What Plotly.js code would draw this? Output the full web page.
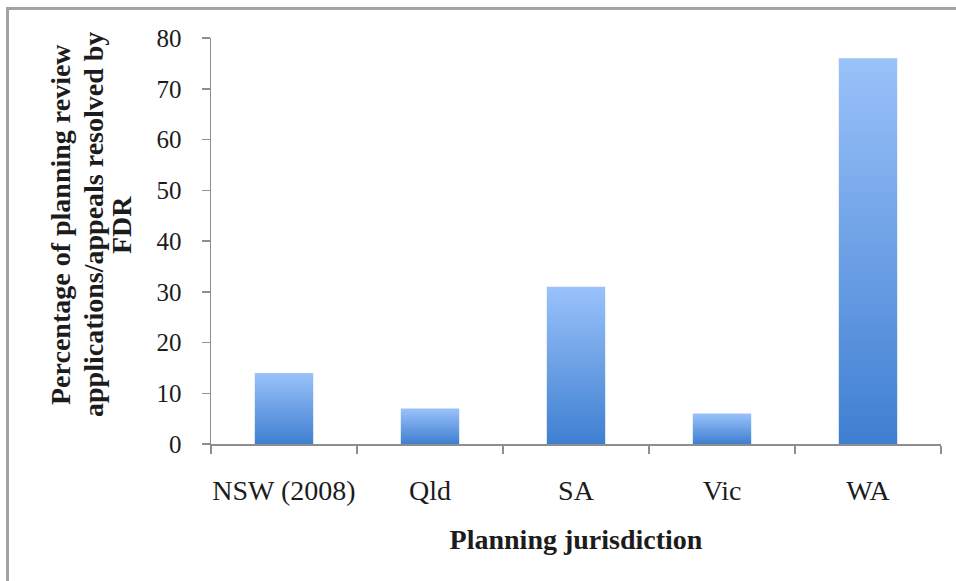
<!DOCTYPE html>
<html>
<head>
<meta charset="utf-8">
<script src="https://cdn.plot.ly/plotly-3.0.1.min.js"></script>
<style>
  html, body { margin: 0; padding: 0; background: #ffffff; }
  #wrap { position: relative; width: 956px; height: 581px; overflow: hidden; }
  #frame { position: absolute; left: 6px; top: 7px; width: 1000px; height: 700px;
           border-left: 3px solid #a3a3a3; border-top: 3px solid #a3a3a3; box-sizing: border-box; }
  #chart { position: absolute; left: 0; top: 0; width: 956px; height: 581px; }
</style>
</head>
<body>
<div id="wrap">
  <div id="frame"></div>
  <div id="chart"></div>
</div>
<script>
const categories = ["NSW (2008)", "Qld", "SA", "Vic", "WA"];
const percentResolved = [14, 7, 31, 6, 76];
const yTickValues = [0, 10, 20, 30, 40, 50, 60, 70, 80];
const yTitleLines = ["Percentage of planning review", "applications/appeals resolved by", "FDR"];
const xTitle = "Planning jurisdiction";

const axisColor = "#8e8e8e";
const textColor = "#1c1c1c";
const serif = "Liberation Serif, serif";

// plot area geometry (px) used to place the y-title lines
const plotLeft = 211, plotWidth = 730, plotTop = 38, plotHeight = 406;
const yTitleCentersPx = [60, 93, 121];
const yTitleMidPx = 225;

const trace = {
  type: "bar",
  x: categories,
  y: percentResolved,
  marker: { color: "#6a9fe4", line: { width: 0 } },
  hoverinfo: "x+y"
};

const annotations = yTitleLines.map(function (line, i) {
  return {
    text: "<b>" + line + "</b>",
    xref: "paper", yref: "paper",
    x: (yTitleCentersPx[i] - plotLeft) / plotWidth,
    y: (plotTop + plotHeight - yTitleMidPx) / plotHeight,
    xanchor: "center", yanchor: "middle",
    textangle: -90,
    showarrow: false,
    font: { family: serif, size: 28, color: textColor }
  };
});

const layout = {
  width: 956,
  height: 581,
  margin: { l: 211, r: 15, t: 38, b: 137, pad: 0 },
  paper_bgcolor: "rgba(0,0,0,0)",
  plot_bgcolor: "rgba(0,0,0,0)",
  showlegend: false,
  bargap: 0.6,
  font: { family: serif, color: textColor },
  annotations: annotations,
  xaxis: {
    type: "category",
    showline: true,
    linecolor: axisColor,
    linewidth: 1.5,
    ticks: "outside",
    tickson: "boundaries",
    ticklen: 8,
    tickwidth: 1.5,
    tickcolor: axisColor,
    showgrid: false,
    zeroline: false,
    tickangle: 0,
    tickfont: { family: serif, size: 28, color: textColor },
    ticklabelstandoff: 21,
    title: {
      text: "<b>" + xTitle + "</b>",
      font: { family: serif, size: 28, color: textColor },
      standoff: 24
    }
  },
  yaxis: {
    range: [0, 80],
    tickvals: yTickValues,
    showline: true,
    linecolor: axisColor,
    linewidth: 1.5,
    ticks: "outside",
    ticklen: 8,
    tickwidth: 1.5,
    tickcolor: axisColor,
    showgrid: false,
    zeroline: false,
    tickfont: { family: serif, size: 25, color: textColor },
    ticklabelstandoff: 15
  }
};

Plotly.newPlot("chart", [trace], layout, { staticPlot: true, displayModeBar: false }).then(function (gd) {
  const ns = "http://www.w3.org/2000/svg";
  const svg = gd.querySelector(".main-svg");
  let defs = svg.querySelector("defs");
  if (!defs) {
    defs = document.createElementNS(ns, "defs");
    svg.insertBefore(defs, svg.firstChild);
  }
  const grad = document.createElementNS(ns, "linearGradient");
  grad.setAttribute("id", "barGradient");
  grad.setAttribute("x1", "0"); grad.setAttribute("y1", "0");
  grad.setAttribute("x2", "0"); grad.setAttribute("y2", "1");
  [["0%", "#9ac2fa"], ["100%", "#3f7fd1"]].forEach(function (s) {
    const stop = document.createElementNS(ns, "stop");
    stop.setAttribute("offset", s[0]);
    stop.setAttribute("stop-color", s[1]);
    grad.appendChild(stop);
  });
  defs.appendChild(grad);
  gd.querySelectorAll(".bars path").forEach(function (p) {
    p.style.fill = "url(#barGradient)";
  });
});
</script>
</body>
</html>
